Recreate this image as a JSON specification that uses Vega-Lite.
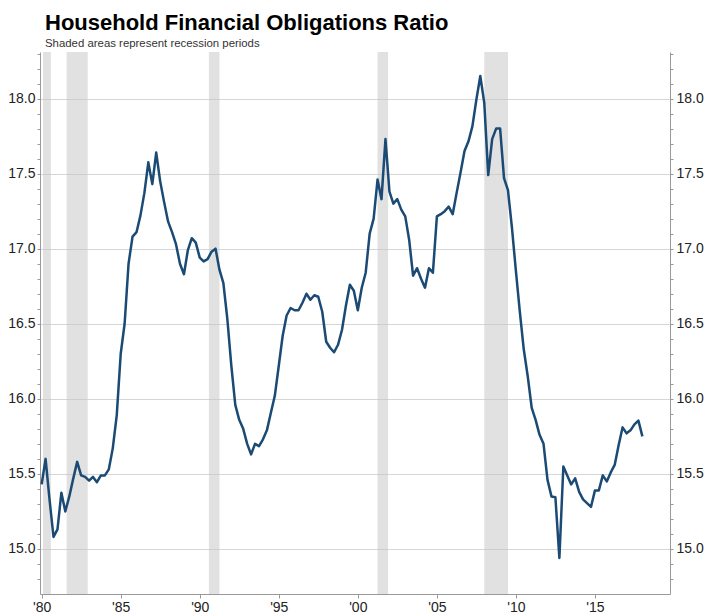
{
  "$schema": "https://vega.github.io/schema/vega-lite/v6.json",
  "width": 630,
  "height": 542,
  "autosize": "none",
  "padding": {"left": 40, "top": 52, "right": 38, "bottom": 19},
  "background": "white",
  "title": {
    "text": "Household Financial Obligations Ratio",
    "subtitle": "Shaded areas represent recession periods",
    "anchor": "start",
    "frame": "group",
    "dx": 5,
    "offset": -4,
    "font": "Liberation Sans",
    "fontSize": 22,
    "fontWeight": "bold",
    "color": "#000000",
    "subtitleFont": "Liberation Sans",
    "subtitleFontSize": 11.4,
    "subtitleColor": "#333333",
    "subtitlePadding": 3
  },
  "datasets": {
    "recessions": [
      {"start": "1980-02-01", "end": "1980-08-01"},
      {"start": "1981-08-01", "end": "1982-12-01"},
      {"start": "1990-08-01", "end": "1991-04-01"},
      {"start": "2001-04-01", "end": "2001-12-01"},
      {"start": "2008-01-01", "end": "2009-07-01"}
    ],
    "ratio": [
      {"d": "1980-01-01", "v": 15.43}, {"d": "1980-04-01", "v": 15.60}, {"d": "1980-07-01", "v": 15.33}, {"d": "1980-10-01", "v": 15.08},
      {"d": "1981-01-01", "v": 15.13}, {"d": "1981-04-01", "v": 15.375}, {"d": "1981-07-01", "v": 15.25}, {"d": "1981-10-01", "v": 15.35},
      {"d": "1982-01-01", "v": 15.47}, {"d": "1982-04-01", "v": 15.58}, {"d": "1982-07-01", "v": 15.49}, {"d": "1982-10-01", "v": 15.48},
      {"d": "1983-01-01", "v": 15.455}, {"d": "1983-04-01", "v": 15.48}, {"d": "1983-07-01", "v": 15.445}, {"d": "1983-10-01", "v": 15.49},
      {"d": "1984-01-01", "v": 15.49}, {"d": "1984-04-01", "v": 15.53}, {"d": "1984-07-01", "v": 15.67}, {"d": "1984-10-01", "v": 15.89},
      {"d": "1985-01-01", "v": 16.30}, {"d": "1985-04-01", "v": 16.50}, {"d": "1985-07-01", "v": 16.90}, {"d": "1985-10-01", "v": 17.08},
      {"d": "1986-01-01", "v": 17.11}, {"d": "1986-04-01", "v": 17.22}, {"d": "1986-07-01", "v": 17.37}, {"d": "1986-10-01", "v": 17.575},
      {"d": "1987-01-01", "v": 17.43}, {"d": "1987-04-01", "v": 17.64}, {"d": "1987-07-01", "v": 17.45}, {"d": "1987-10-01", "v": 17.31},
      {"d": "1988-01-01", "v": 17.18}, {"d": "1988-04-01", "v": 17.11}, {"d": "1988-07-01", "v": 17.03}, {"d": "1988-10-01", "v": 16.90},
      {"d": "1989-01-01", "v": 16.83}, {"d": "1989-04-01", "v": 16.99}, {"d": "1989-07-01", "v": 17.07}, {"d": "1989-10-01", "v": 17.04},
      {"d": "1990-01-01", "v": 16.94}, {"d": "1990-04-01", "v": 16.915}, {"d": "1990-07-01", "v": 16.93}, {"d": "1990-10-01", "v": 16.98},
      {"d": "1991-01-01", "v": 17.00}, {"d": "1991-04-01", "v": 16.86}, {"d": "1991-07-01", "v": 16.77}, {"d": "1991-10-01", "v": 16.53},
      {"d": "1992-01-01", "v": 16.22}, {"d": "1992-04-01", "v": 15.96}, {"d": "1992-07-01", "v": 15.86}, {"d": "1992-10-01", "v": 15.80},
      {"d": "1993-01-01", "v": 15.70}, {"d": "1993-04-01", "v": 15.63}, {"d": "1993-07-01", "v": 15.70}, {"d": "1993-10-01", "v": 15.685},
      {"d": "1994-01-01", "v": 15.73}, {"d": "1994-04-01", "v": 15.79}, {"d": "1994-07-01", "v": 15.905}, {"d": "1994-10-01", "v": 16.02},
      {"d": "1995-01-01", "v": 16.22}, {"d": "1995-04-01", "v": 16.42}, {"d": "1995-07-01", "v": 16.555}, {"d": "1995-10-01", "v": 16.605},
      {"d": "1996-01-01", "v": 16.59}, {"d": "1996-04-01", "v": 16.59}, {"d": "1996-07-01", "v": 16.64}, {"d": "1996-10-01", "v": 16.70},
      {"d": "1997-01-01", "v": 16.66}, {"d": "1997-04-01", "v": 16.69}, {"d": "1997-07-01", "v": 16.68}, {"d": "1997-10-01", "v": 16.58},
      {"d": "1998-01-01", "v": 16.38}, {"d": "1998-04-01", "v": 16.34}, {"d": "1998-07-01", "v": 16.31}, {"d": "1998-10-01", "v": 16.36},
      {"d": "1999-01-01", "v": 16.46}, {"d": "1999-04-01", "v": 16.62}, {"d": "1999-07-01", "v": 16.76}, {"d": "1999-10-01", "v": 16.72},
      {"d": "2000-01-01", "v": 16.59}, {"d": "2000-04-01", "v": 16.74}, {"d": "2000-07-01", "v": 16.84}, {"d": "2000-10-01", "v": 17.10},
      {"d": "2001-01-01", "v": 17.20}, {"d": "2001-04-01", "v": 17.46}, {"d": "2001-07-01", "v": 17.33}, {"d": "2001-10-01", "v": 17.73},
      {"d": "2002-01-01", "v": 17.38}, {"d": "2002-04-01", "v": 17.30}, {"d": "2002-07-01", "v": 17.33}, {"d": "2002-10-01", "v": 17.26},
      {"d": "2003-01-01", "v": 17.215}, {"d": "2003-04-01", "v": 17.06}, {"d": "2003-07-01", "v": 16.82}, {"d": "2003-10-01", "v": 16.87},
      {"d": "2004-01-01", "v": 16.80}, {"d": "2004-04-01", "v": 16.74}, {"d": "2004-07-01", "v": 16.87}, {"d": "2004-10-01", "v": 16.84},
      {"d": "2005-01-01", "v": 17.215}, {"d": "2005-04-01", "v": 17.23}, {"d": "2005-07-01", "v": 17.25}, {"d": "2005-10-01", "v": 17.28},
      {"d": "2006-01-01", "v": 17.23}, {"d": "2006-04-01", "v": 17.37}, {"d": "2006-07-01", "v": 17.505}, {"d": "2006-10-01", "v": 17.65},
      {"d": "2007-01-01", "v": 17.715}, {"d": "2007-04-01", "v": 17.815}, {"d": "2007-07-01", "v": 17.99}, {"d": "2007-10-01", "v": 18.15},
      {"d": "2008-01-01", "v": 17.97}, {"d": "2008-04-01", "v": 17.49}, {"d": "2008-07-01", "v": 17.73}, {"d": "2008-10-01", "v": 17.80},
      {"d": "2009-01-01", "v": 17.80}, {"d": "2009-04-01", "v": 17.47}, {"d": "2009-07-01", "v": 17.39}, {"d": "2009-10-01", "v": 17.14},
      {"d": "2010-01-01", "v": 16.85}, {"d": "2010-04-01", "v": 16.58}, {"d": "2010-07-01", "v": 16.33}, {"d": "2010-10-01", "v": 16.15},
      {"d": "2011-01-01", "v": 15.94}, {"d": "2011-04-01", "v": 15.86}, {"d": "2011-07-01", "v": 15.76}, {"d": "2011-10-01", "v": 15.70},
      {"d": "2012-01-01", "v": 15.46}, {"d": "2012-04-01", "v": 15.35}, {"d": "2012-07-01", "v": 15.345}, {"d": "2012-10-01", "v": 14.94},
      {"d": "2013-01-01", "v": 15.55}, {"d": "2013-04-01", "v": 15.49}, {"d": "2013-07-01", "v": 15.43}, {"d": "2013-10-01", "v": 15.47},
      {"d": "2014-01-01", "v": 15.38}, {"d": "2014-04-01", "v": 15.33}, {"d": "2014-07-01", "v": 15.305}, {"d": "2014-10-01", "v": 15.28},
      {"d": "2015-01-01", "v": 15.39}, {"d": "2015-04-01", "v": 15.39}, {"d": "2015-07-01", "v": 15.49}, {"d": "2015-10-01", "v": 15.45},
      {"d": "2016-01-01", "v": 15.51}, {"d": "2016-04-01", "v": 15.56}, {"d": "2016-07-01", "v": 15.69}, {"d": "2016-10-01", "v": 15.81},
      {"d": "2017-01-01", "v": 15.77}, {"d": "2017-04-01", "v": 15.79}, {"d": "2017-07-01", "v": 15.83}, {"d": "2017-10-01", "v": 15.855},
      {"d": "2018-01-01", "v": 15.75}
    ]
  },
  "layer": [
    {
      "data": {"name": "recessions"},
      "mark": {"type": "rect", "color": "#c4c4c4", "opacity": 0.5},
      "encoding": {
        "x": {
          "field": "start", "type": "temporal",
          "scale": {"type": "utc", "domain": [{"year": 1979, "month": 11, "date": 24, "utc": true}, {"year": 2019, "month": 10, "date": 1, "utc": true}]},
          "axis": {
            "values": [
              {"year": 1980, "utc": true}, {"year": 1985, "utc": true}, {"year": 1990, "utc": true}, {"year": 1995, "utc": true},
              {"year": 2000, "utc": true}, {"year": 2005, "utc": true}, {"year": 2010, "utc": true}, {"year": 2015, "utc": true}
            ],
            "labelExpr": "\"'\" + utcFormat(datum.value, '%y')",
            "labelFlush": true,
            "labelFont": "Liberation Sans", "labelFontSize": 14, "labelColor": "#222222",
            "labelPadding": 2, "tickSize": 4, "tickColor": "#999999",
            "domainColor": "#999999", "grid": false, "title": null, "labelOverlap": false
          }
        },
        "x2": {"field": "end"},
        "y": {
          "datum": 14.7, "type": "quantitative",
          "scale": {"domain": [14.7, 18.31], "nice": false, "zero": false},
          "axis": {
            "orient": "left", "values": [15.0, 15.5, 16.0, 16.5, 17.0, 17.5, 18.0],
            "grid": true, "gridColor": "#d6d6d6", "gridWidth": 1,
            "domain": false, "ticks": false, "labels": false, "title": null
          }
        },
        "y2": {"datum": 18.31}
      }
    },
    {
      "data": {"name": "ratio"},
      "mark": {"type": "line", "color": "#1b4a74", "strokeWidth": 2.5, "strokeJoin": "round"},
      "encoding": {
        "x": {
          "field": "d", "type": "temporal",
          "scale": {"type": "utc", "domain": [{"year": 1979, "month": 11, "date": 24, "utc": true}, {"year": 2019, "month": 10, "date": 1, "utc": true}]},
          "axis": {
            "values": [
              {"year": 1980, "utc": true}, {"year": 1985, "utc": true}, {"year": 1990, "utc": true}, {"year": 1995, "utc": true},
              {"year": 2000, "utc": true}, {"year": 2005, "utc": true}, {"year": 2010, "utc": true}, {"year": 2015, "utc": true}
            ],
            "labelExpr": "\"'\" + utcFormat(datum.value, '%y')",
            "labelFlush": true,
            "labelFont": "Liberation Sans", "labelFontSize": 14, "labelColor": "#222222",
            "labelPadding": 2, "tickSize": 4, "tickColor": "#999999",
            "domainColor": "#999999", "grid": false, "title": null, "labelOverlap": false
          }
        },
        "y": {
          "field": "v", "type": "quantitative",
          "scale": {"domain": [14.7, 18.31], "nice": false, "zero": false},
          "axis": {
            "orient": "left",
            "values": [14.8, 14.9, 15.0, 15.1, 15.2, 15.3, 15.4, 15.5, 15.6, 15.7, 15.8, 15.9, 16.0, 16.1, 16.2, 16.3, 16.4, 16.5, 16.6, 16.7, 16.8, 16.9, 17.0, 17.1, 17.2, 17.3, 17.4, 17.5, 17.6, 17.7, 17.8, 17.9, 18.0, 18.1, 18.2, 18.3],
            "labelExpr": "abs(datum.value * 2 - round(datum.value * 2)) < 0.01 ? format(datum.value, '.1f') : ''",
            "labelOverlap": false,
            "labelFont": "Liberation Sans", "labelFontSize": 14, "labelColor": "#222222",
            "labelPadding": 2, "tickSize": 3, "tickColor": "#999999",
            "domainColor": "#999999", "grid": false, "title": null
          }
        }
      }
    },
    {
      "mark": {"type": "rule", "color": "#dddddd", "strokeWidth": 1},
      "encoding": {
        "y": {
          "datum": 18.31, "type": "quantitative",
          "scale": {"domain": [14.7, 18.31], "nice": false, "zero": false},
          "axis": {
            "orient": "right",
            "values": [14.8, 14.9, 15.0, 15.1, 15.2, 15.3, 15.4, 15.5, 15.6, 15.7, 15.8, 15.9, 16.0, 16.1, 16.2, 16.3, 16.4, 16.5, 16.6, 16.7, 16.8, 16.9, 17.0, 17.1, 17.2, 17.3, 17.4, 17.5, 17.6, 17.7, 17.8, 17.9, 18.0, 18.1, 18.2, 18.3],
            "labelExpr": "abs(datum.value * 2 - round(datum.value * 2)) < 0.01 ? format(datum.value, '.1f') : ''",
            "labelOverlap": false,
            "labelFont": "Liberation Sans", "labelFontSize": 14, "labelColor": "#222222",
            "labelPadding": 3, "tickSize": 3, "tickColor": "#999999",
            "domainColor": "#999999", "grid": false, "title": null
          }
        }
      }
    }
  ],
  "resolve": {"axis": {"y": "independent"}},
  "config": {"view": {"stroke": null}}
}
